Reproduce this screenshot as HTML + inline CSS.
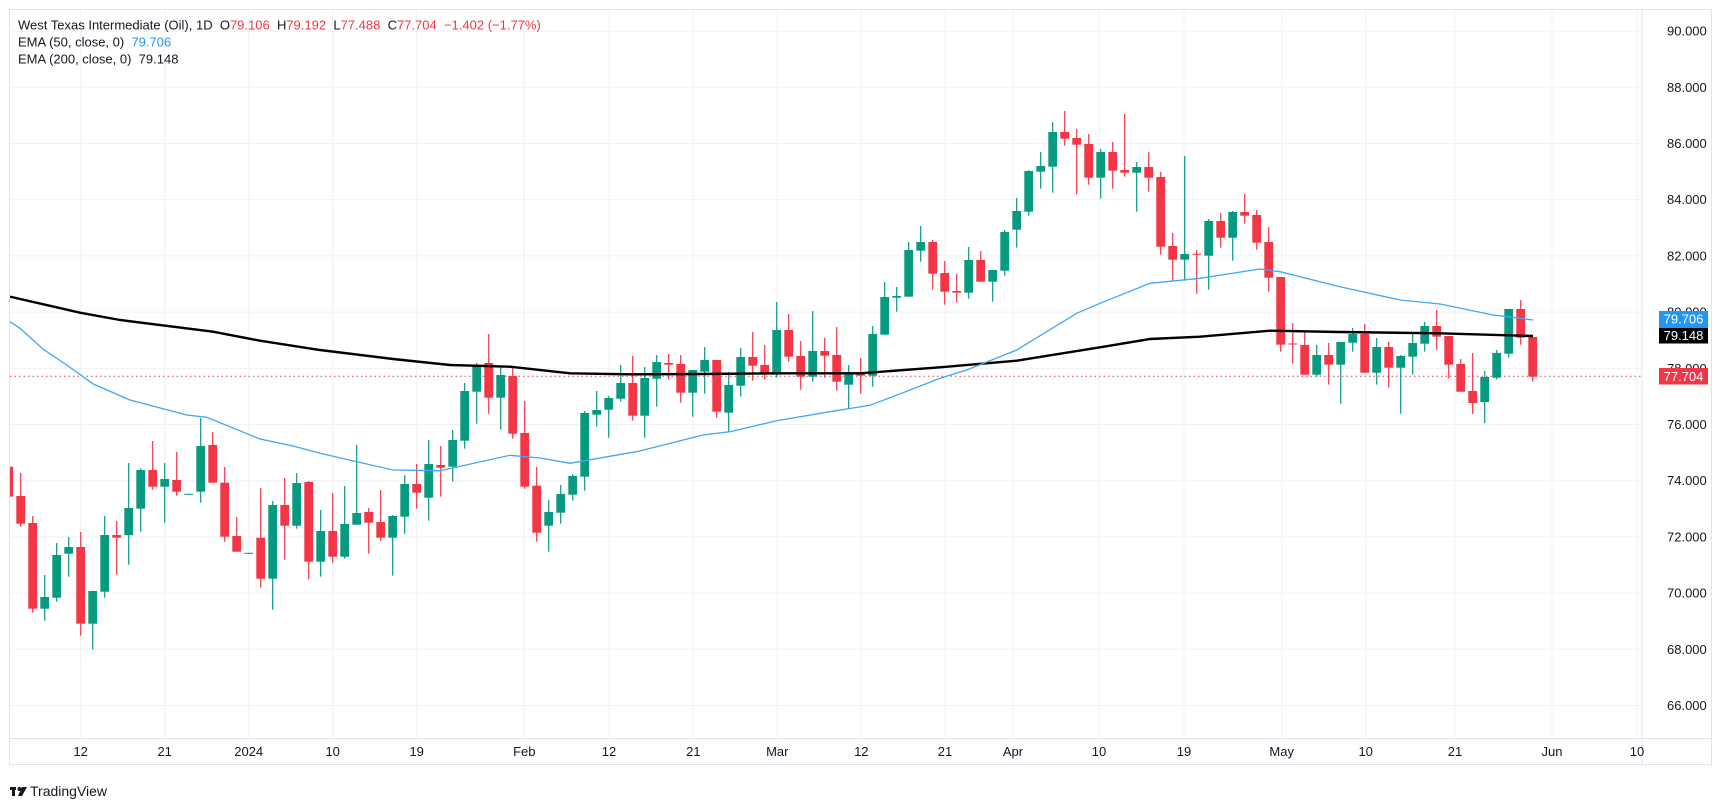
<!DOCTYPE html>
<html><head><meta charset="utf-8">
<style>
html,body{margin:0;padding:0;background:#fff;}
body{width:1723px;height:801px;overflow:hidden;font-family:"Liberation Sans",sans-serif;}
svg text{font-family:"Liberation Sans",sans-serif;white-space:pre;}
</style></head>
<body>
<svg id="c" width="1723" height="801" viewBox="0 0 1723 801" xmlns="http://www.w3.org/2000/svg">
<defs><clipPath id="pc"><rect x="10" y="9" width="1632" height="729"/></clipPath></defs>
<rect x="0" y="0" width="1723" height="801" fill="#fff"/>
<g id="grid" stroke="#f0f1f3" stroke-width="1"></g>
<rect x="9.5" y="9.5" width="1702" height="755" fill="none" stroke="#e0e3eb"/>
<line x1="1642" y1="9" x2="1642" y2="765" stroke="#e0e3eb"/>
<line x1="10" y1="738.5" x2="1712" y2="738.5" stroke="#e0e3eb"/>
<g clip-path="url(#pc)">
<line x1="10" y1="376.3" x2="1642" y2="376.3" stroke="#f23645" stroke-width="1" stroke-dasharray="1.5,3"/>
<g id="cand"></g>
<polyline fill="none" stroke="#000" stroke-width="2.4" points="10,296.7 80,312.7 120,320 213,331.7 260,340.7 320,350 393,359 450,365 510,366.7 570,373.3 630,374.3 700,374 780,373.3 860,373.3 940,367.3 1016.7,360.7 1100,347.3 1150,339 1200,336.7 1270,330.7 1340,332 1440,333.3 1533,336"/>
<polyline fill="none" stroke="#42a5f5" stroke-width="1.3" points="10,321.7 20,328.3 43.3,349.3 66.7,365 93.3,384 130,400 186.7,415 206.7,417.3 260,439 293,446 320,453.3 393,470 440,470.7 510,455.3 540,458 570,463.3 630,452.7 636.7,451.7 703,435 730,431.7 776.7,420.7 830,411.7 870,405.3 910,390 940,378.3 966.7,370 1016.7,350 1076.7,313.3 1100,303.3 1150,283.3 1200,278.3 1260,269 1280,271.7 1340,286.7 1400,300 1440,304 1493,315 1513,317.3 1533,320"/>
</g>
<g id="ylab" font-size="13" fill="#131722"></g>
<g id="xlab" font-size="13" fill="#131722" text-anchor="middle"></g>
<rect x="1659" y="311" width="49" height="16" fill="#2196f3"/>
<text x="1683.5" y="323.5" font-size="13" fill="#fff" text-anchor="middle">79.706</text>
<rect x="1659" y="327.5" width="49" height="16" fill="#000"/>
<text x="1683.5" y="340" font-size="13" fill="#fff" text-anchor="middle">79.148</text>
<rect x="1659" y="368" width="49" height="16.5" fill="#f23645"/>
<text x="1683.5" y="380.8" font-size="13" fill="#fff" text-anchor="middle">77.704</text>
<g font-size="13">
<text x="18" y="29.5" fill="#131722">West Texas Intermediate (Oil), 1D  <tspan>O</tspan><tspan fill="#f23645">79.106</tspan>  <tspan>H</tspan><tspan fill="#f23645">79.192</tspan>  <tspan>L</tspan><tspan fill="#f23645">77.488</tspan>  <tspan>C</tspan><tspan fill="#f23645">77.704</tspan>  <tspan fill="#f23645">−1.402 (−1.77%)</tspan></text>
<text x="18" y="46.5" fill="#131722">EMA (50, close, 0)  <tspan fill="#2196f3">79.706</tspan></text>
<text x="18" y="63.5" fill="#131722">EMA (200, close, 0)  79.148</text>
</g>
<g>
<rect x="10" y="787" width="6" height="3" fill="#131722"/><rect x="12" y="787" width="3" height="9" fill="#131722"/>
<circle cx="19.5" cy="789" r="2" fill="#131722"/>
<polygon points="22,787 27,787 22,796 18,796" fill="#131722"/>
<text x="30" y="796" font-size="14" fill="#131722">TradingView</text>
</g>
</svg>
<script>
var NS="http://www.w3.org/2000/svg";
function el(t,a,p,txt){var e=document.createElementNS(NS,t);for(var k in a)e.setAttribute(k,a[k]);if(txt!==undefined)e.textContent=txt;p.appendChild(e);return e;}
var g=document.getElementById('grid');
for(var p=90;p>=66;p-=2){var y=368.3+(78-p)*28.1;el('line',{x1:10,y1:y,x2:1642,y2:y},g);
 el('text',{x:1667,y:y+4.5},document.getElementById('ylab'),p.toFixed(3));}
var xs=[[80.7,'12'],[164.7,'21'],[248.7,'2024'],[332.7,'10'],[416.7,'19'],[524.3,'Feb'],[609,'12'],[693.3,'21'],[777.3,'Mar'],[861.3,'12'],[945,'21'],[1013,'Apr'],[1099,'10'],[1184,'19'],[1281.7,'May'],[1365.7,'10'],[1455,'21'],[1552,'Jun'],[1637,'10']];
xs.forEach(function(v){el('line',{x1:v[0],y1:9,x2:v[0],y2:738},g);el('text',{x:v[0],y:756},document.getElementById('xlab'),v[1]);});
var d="r 466.7 496.7 466.7 496.7|r 496 523.7 473 526.7|r 523 608.7 516 612.7|g 597 608.7 575 620.7|g 555 597.7 543 601.7|g 547 553.7 537 576.7|r 547 623.7 532 635.7|g 591 623.7 591 649.3|g 535 591.7 516 597.7|r 535 537.7 521 574.7|g 508 535 463 564.7|g 470 508.7 468.3 531.7|r 470 486.7 441 489.7|g 479 486.7 463 522.7|r 480 491.7 452 495.7|g 493.8 494.8 493.8 494.8|g 446 491.7 418 502.7|r 445 482.7 432 482.7|r 482.7 536.7 467 541.7|r 536 551.7 517 551.7|g 552.8 553.8 552.8 553.8|r 537.7 578.7 488 587.7|g 505 578.7 501 609.7|r 505 525.7 478 559.7|g 483 525.7 473 528.7|r 482 561.7 481 579.3|g 531 561.7 510 576.7|r 531 556.7 493 562.7|g 524 556.7 486 558.7|g 513 524.7 445 524.7|r 512 522.7 508 553.7|r 522 537.7 490 540.7|g 516 537.7 515 575.7|g 484 516.7 475 533.7|r 484 492.7 464 508.7|g 464 497.7 440 520.7|r 465 467.7 446 496.7|g 440 466.7 430 481.7|g 391 440.7 383 448.7|g 366 391.7 363 423.7|r 363 397.7 334 413.7|g 375 397.7 367 429.7|r 376 433.7 368 438.7|r 433 486.7 401 488.7|r 485.7 532.7 467 541.7|g 512 525.7 500 551.7|g 494 512.7 485 523.7|g 476 494.7 474 500.7|g 413 476.7 411 490.7|g 410 414.7 391 426.7|g 398 409.7 396 437.7|g 383 398.7 365 401.7|r 383 415.7 356 420.7|g 378 415.7 367 437.7|g 362 378.7 355 406.7|r 363 364.7 354 379.7|r 364 392.7 355 402.7|g 370 392.7 370 416.7|g 360 371.7 347 393.7|r 360 411.7 360 417.7|g 385 412.7 372 431.7|g 357 385.7 348 396.7|r 357 365.7 332 380.7|r 365 374.7 345 379.7|g 330 374.7 302 377.7|r 330 356.7 314 361.7|r 356 376.7 341 389.7|g 351 376.7 311 381.7|r 351 355.7 338 377.7|r 355 381.7 327 390.7|g 372 384.7 365 408.7|r 372 375.7 358 393.7|g 334 375.7 326 386.7|g 297 334.7 282 334.7|g 296 297.7 287 311.7|g 250 296.7 242 296.7|g 242 250.7 226 261.7|r 242 273.7 240 289.7|r 273 291.7 261 304.7|r 291 292.7 273.7 302.7|g 260 292.7 247 298.7|r 260 281.7 251 281.7|g 270 281.7 270 301.7|g 232 270.7 230 275.7|g 211 229.7 198 247.7|g 171 211.7 170 215.7|g 166 171.7 152 188.7|g 132 166.7 122 192.7|r 132 138.7 111 145.7|r 138 144.7 129 194.7|r 144 177.7 134 184.7|g 152 177.7 149 198.7|r 152 170.7 142 188.7|r 170 172.7 114 176.7|g 167 172.7 162 211.7|r 167 177.7 152 191.7|r 177 246.7 172 254.7|r 246 259.7 233 280.7|g 254 259.7 156 280.7|r 253.8 254.8 250 293.7|g 221 255.7 219 289.7|r 221 237.7 213 247.7|g 212 237.7 211 260.7|r 212 215.7 194 223.7|r 215 242.7 210 249.7|r 242 277.7 227 291.7|r 277 344.7 277 351.7|r 343.5 344.5 323 363.7|r 345 374.7 330.7 374.7|g 355 374.7 345 376.7|r 355 364.7 343 384.7|g 342 364.7 342 403.7|g 334 342.7 328 351.7|r 334 372.7 324 372.7|g 347 372.7 338 384.7|r 347 367.7 342 387.7|g 356 367.7 355 413.7|g 343 356.7 332 374.7|g 326 343.7 322 351.7|r 326 336.7 310 349.7|r 336 364.7 336 378.3|r 364 391.7 359 391.7|r 391 403 353 414|g 377 402 371 423|g 353 377.7 350 379.7|g 309 353.7 309 357.7|r 309 337.7 300 344.7|r 337 376.7 337 381.7";
var cg=document.getElementById('cand');
d.split('|').forEach(function(s,i){var a=s.split(' ');var c=a[0]=='g'?'#089981':'#f23645';
 var x=8.7+12*i,bt=+a[1],bb=+a[2],wt=+a[3],wb=+a[4];
 el('rect',{x:x-0.6,y:wt,width:1.2,height:Math.max(wb-wt,1),fill:c},cg);
 el('rect',{x:x-4.4,y:bt,width:8.8,height:Math.max(bb-bt,1),fill:c},cg);});
</script>
</body></html>
